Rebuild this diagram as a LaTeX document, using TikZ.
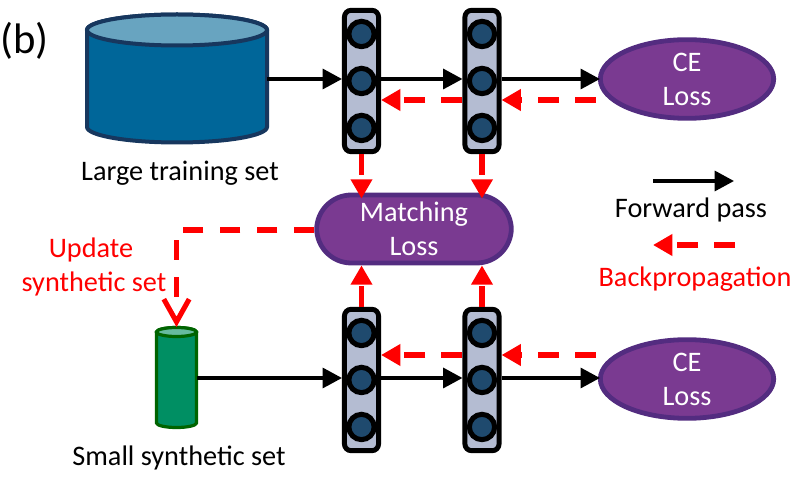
\documentclass[tikz,border=0pt]{standalone}
\usepackage{fontspec}
\setmainfont{Carlito}
\usetikzlibrary{arrows.meta,calc,shapes.geometric}
\definecolor{bigfill}{HTML}{006699}
\definecolor{bigtop}{HTML}{68A4C0}
\definecolor{bigline}{HTML}{17375E}
\definecolor{smallfill}{HTML}{008F63}
\definecolor{smalltop}{HTML}{66BB9F}
\definecolor{smallline}{HTML}{006400}
\definecolor{modfill}{HTML}{B4BCD2}
\definecolor{circfill}{HTML}{1F4A6E}
\definecolor{lossfill}{HTML}{7A3A91}
\definecolor{lossline}{HTML}{532C80}
\definecolor{redline}{HTML}{FF0000}
\tikzset{
  x=0.75pt,y=-0.75pt,
  lbl/.style={font=\fontsize{21.2pt}{25pt}\selectfont,inner sep=0pt,anchor=center},
  redlbl/.style={lbl,text=redline},
  losslbl/.style={fill=lossfill,draw=lossline,line width=3.6pt,text=white,align=center,
    font=\fontsize{21.2pt}{25.5pt}\selectfont,inner sep=0pt},
  ceLoss/.style={losslbl,ellipse,minimum width=130pt,minimum height=59pt},
  matchLoss/.style={losslbl,rectangle,rounded corners=26pt,minimum width=146pt,minimum height=51pt},
  modbox/.style={draw=black,fill=modfill,line width=3.7pt,rounded corners=5pt,minimum width=25.6pt,minimum height=106pt,inner sep=0pt},
  modcirc/.style={draw=black,fill=circfill,line width=3.8pt,circle,minimum size=19pt,inner sep=0pt},
  fwd/.style={draw=black,line width=2.4pt,-{Triangle[length=14.5pt,width=15pt]}},
  back/.style={draw=redline,line width=3.8pt,dash pattern=on 15.75pt off 12pt,
    -{Triangle[length=14.5pt,width=15.5pt]}},
  upd/.style={draw=redline,line width=3.8pt,
    dash pattern=on 15pt off 12.75pt on 15pt off 12.75pt on 15pt off 12.75pt on 15pt off 12.75pt on 15pt off 12.75pt on 15pt off 200pt,
    -{Straight Barb[length=17pt,width=19pt,line width=3.8pt]}},
}
\newcommand{\module}[3]{%
  \node[modbox] (#1) at (#2,#3) {};
  \node[modcirc] (#1a) at (#2,#3-47) {};
  \node[modcirc] (#1b) at (#2,#3) {};
  \node[modcirc] (#1c) at (#2,#3+47) {};
}
\begin{document}
\begin{tikzpicture}
\useasboundingbox (0,0) rectangle (794,477);
% big cylinder
\draw[fill=bigfill,draw=bigline,line width=3pt] (87,30) -- (87,127) arc[start angle=180,end angle=0,x radius=90,y radius=15.5] -- (267,30) arc[start angle=0,end angle=-180,x radius=90,y radius=15.5] -- cycle;
\draw[fill=bigtop,draw=bigline,line width=3pt] (177,30) ellipse[x radius=90,y radius=15.5];
\node[inner sep=0pt,minimum width=135pt,minimum height=90pt] (large) at (177,79) {};
% small cylinder
\draw[fill=smallfill,draw=smallline,line width=2.4pt] (156.5,332) -- (156.5,423) arc[start angle=180,end angle=0,x radius=20,y radius=4.5] -- (196.5,332) arc[start angle=0,end angle=-180,x radius=20,y radius=4.5] -- cycle;
\draw[fill=smalltop,draw=smallline,line width=2.4pt] (176.5,332) ellipse[x radius=20,y radius=4.5];
\node[inner sep=0pt,minimum width=30pt,minimum height=75pt] (small) at (176.5,378) {};
% modules
\module{ma}{361.5}{81}
\module{mb}{482}{81}
\module{mc}{361.5}{380}
\module{md}{482}{380}
% losses
\node[ceLoss] (cet) at (687,79) {CE\\Loss};
\node[ceLoss] (ceb) at (687,379) {CE\\Loss};
\node[matchLoss] (match) at (414,229) {\raisebox{-1.5pt}{Matching}\\\raisebox{-1.5pt}{Loss}};
% forward
\draw[fwd] (large.east) -- ($(ma.west)+(0,-2)$);
\draw[fwd] ($(ma.east)+(0,-2)$) -- ($(mb.west)+(0,-2)$);
\draw[fwd] ($(mb.east)+(0,-2)$) -- ($(cet.west)+(2,0)$);
\draw[fwd] (small.east) -- ($(mc.west)+(0,-2)$);
\draw[fwd] ($(mc.east)+(0,-2)$) -- ($(md.west)+(0,-2)$);
\draw[fwd] ($(md.east)+(0,-2)$) -- ($(ceb.west)+(2,-1)$);
% backprop horizontal
\draw[back] ($(cet.west)+(-2,21)$) -- ($(mb.east)+(0,19)$);
\draw[back] ($(mb.west)+(0,19)$) -- ($(ma.east)+(0,19)$);
\draw[back] ($(ceb.west)+(-2,-24)$) -- ($(md.east)+(0,-25)$);
\draw[back] ($(md.west)+(0,-25)$) -- ($(mc.east)+(0,-25)$);
% backprop vertical
\draw[back] (ma.south) -- ($(ma.south |- match.north)+(0,6)$);
\draw[back] (mb.south) -- ($(mb.south |- match.north)+(0,6)$);
\draw[back] (mc.north) -- (mc.north |- match.south);
\draw[back] (md.north) -- (md.north |- match.south);
% update
\coordinate (small top) at (176.5,327);
\draw[upd] ($(match.west)+(0,1)$) -| (small top);
% legend
\coordinate (lf1) at (653,181);
\coordinate (lf2) at (734,181);
\draw[fwd] (lf1) -- (lf2);
\coordinate (lb1) at (735,245);
\coordinate (lb2) at (653,245);
\draw[back] (lb1) -- (lb2);
% text
\node[lbl,font=\fontsize{32pt}{36pt}\selectfont] (tb) at (24.5,41) {(b)};
\node[lbl] (tl) at (180,173) {Large training set};
\node[lbl] (ts) at (179,458) {Small synthetic set};
\node[lbl] (tf) at (691,210) {Forward pass};
\node[redlbl] (tbp) at (695,279) {Backpropagation};
\node[redlbl] (tu1) at (91,250) {Update};
\node[redlbl] (tu2) at (94,284) {synthetic set};
\end{tikzpicture}
\end{document}
